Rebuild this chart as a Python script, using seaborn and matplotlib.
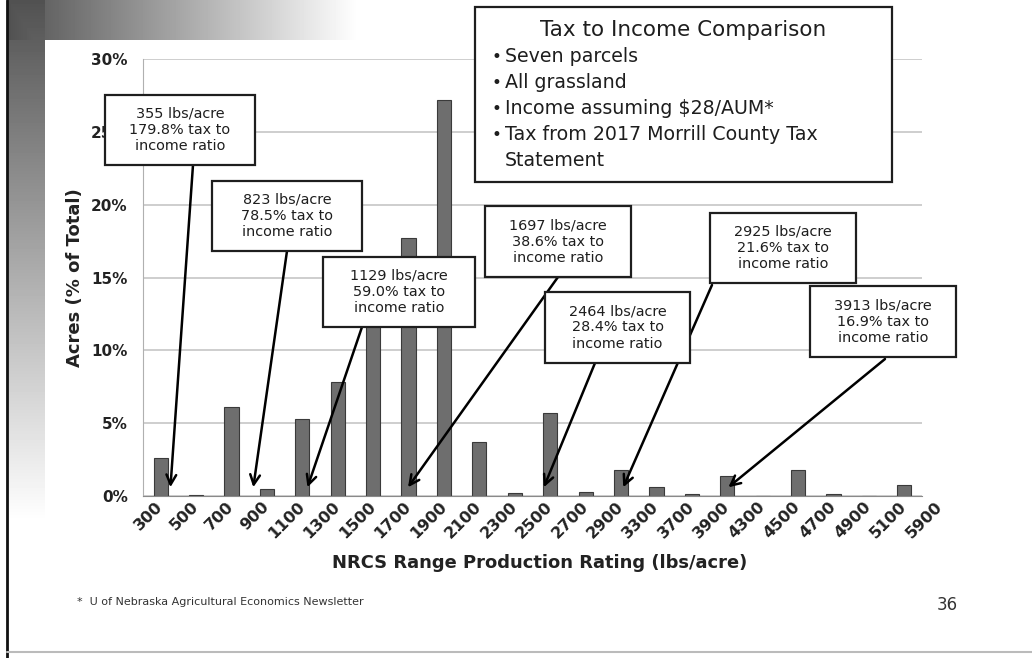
import numpy as np
import pandas as pd
import seaborn as sns
import matplotlib
matplotlib.use("Agg")
import matplotlib.pyplot as plt
from matplotlib.patches import Rectangle

# ---------------- data ----------------
categories = ["300", "500", "700", "900", "1100", "1300", "1500", "1700", "1900",
              "2100", "2300", "2500", "2700", "2900", "3300", "3700", "3900",
              "4300", "4500", "4700", "4900", "5100"]
extra_label = "5900"
acres_pct = [2.6, 0.1, 6.1, 0.5, 5.3, 7.8, 14.0, 17.7, 27.2,
             3.7, 0.2, 5.7, 0.3, 1.8, 0.6, 0.15, 1.4,
             0.0, 1.8, 0.15, 0.0, 0.75]

parcel_lbs = [355, 823, 1129, 1697, 2464, 2925, 3913]
parcel_ratio = [179.8, 78.5, 59.0, 38.6, 28.4, 21.6, 16.9]

info_title = "Tax to Income Comparison"
info_bullets = ["Seven parcels", "All grassland", r"Income assuming \$28/AUM*",
                "Tax from 2017 Morrill County Tax", "Statement"]
info_bullet_flags = [True, True, True, True, False]

footnote = "*  U of Nebraska Agricultural Economics Newsletter"
page_number = "36"

# ---------------- layout (pixels of the 1032x658 slide) ----------------
W, H = 1032, 658
box_px = [(105, 95, 255, 165), (212, 181, 362, 251), (323, 257, 475, 327),
          (485, 206, 631, 277), (545, 292, 690, 363), (710, 213, 856, 283),
          (810, 286, 956, 357)]
arrow_start_px = [(193, 165), (287, 251), (362, 327), (558, 277),
                  (595, 363), (712, 285), (885, 359)]
tip_level = 0.6

sns.set_style("white")
plt.rcParams["font.family"] = ["DejaVu Sans"]

fig = plt.figure(figsize=(W / 100, H / 100), dpi=100)
fig.patch.set_facecolor("white")

def fx(x):
    return x / W

def fy(y):
    return 1 - y / H

# slide decoration (gradient banner + left strip)
bg = fig.add_axes([0, 0, 1, 1], zorder=-10)
yy, xx = np.mgrid[0:H, 0:W]
top = np.clip(1 - (xx - 8) / 350, 0, 1) * (yy < 40)
left = np.clip(1 - yy / 520, 0, 1) * ((xx >= 8) & (xx < 45))
dark = np.maximum(top, left) * (xx >= 8)
img = 1 - 0.68 * dark
bg.imshow(img, cmap="gray", vmin=0, vmax=1, extent=(0, W, H, 0), aspect="auto")
bg.plot([7, 7], [0, H], color="#111111", lw=2)
bg.plot([7, W], [652, 652], color="#bbbbbb", lw=1.5)
bg.set_xlim(0, W)
bg.set_ylim(H, 0)
bg.axis("off")

# ---------------- main chart ----------------
ax = fig.add_axes([fx(143), fy(496), 779 / W, 437 / H])
df = pd.DataFrame({"rating": categories, "pct": acres_pct})
sns.barplot(data=df, x="rating", y="pct", order=categories, color="#6e6e6e",
            saturation=1, width=0.4, edgecolor="#3a3a3a", linewidth=0.8, ax=ax)

ax.set_ylim(0, 30)
yt = np.arange(0, 31, 5)
ax.set_yticks(yt)
ax.set_yticklabels([f"{v}%" for v in yt], fontsize=11, fontweight="bold", color="#222222")
ax.yaxis.grid(True, color="#c6c6c6", lw=1.2)
ax.set_axisbelow(True)
for s in ["top", "right"]:
    ax.spines[s].set_visible(False)
ax.spines["left"].set_color("#b0b0b0")
ax.spines["bottom"].set_color("#8a8a8a")
ax.tick_params(axis="y", length=4, color="#b0b0b0", pad=7)
ax.tick_params(axis="x", which="major", length=0, pad=6)
ax.set_xticks(np.arange(-0.5, len(categories), 1), minor=True)
ax.tick_params(axis="x", which="minor", length=4, color="#8a8a8a")

xlabels = ax.get_xticklabels()
plt.setp(xlabels, rotation=45, ha="right", va="center", rotation_mode="anchor",
         fontsize=11.5, fontweight="bold", color="#222222")
ref = xlabels[-1]
ax.text(len(categories), ref.get_position()[1], extra_label, transform=ref.get_transform(),
        rotation=45, ha="right", va="center", rotation_mode="anchor",
        fontsize=11.5, fontweight="bold", color="#222222", clip_on=False)

ax.set_xlabel("NRCS Range Production Rating (lbs/acre)", fontsize=12.9,
              fontweight="bold", color="#222222", va="center")
ax.xaxis.set_label_coords((540 - 143) / 779, -(563 - 496) / 437)
ax.set_ylabel("Acres (% of Total)", fontsize=13, fontweight="bold", color="#222222", va="center")
ax.yaxis.set_label_coords(-(143 - 75) / 779, 0.5)

# ---------------- annotations ----------------
cat_vals = np.array([float(c) for c in categories])
for lbs, ratio, (x0, y0, x1, y1), (sx, sy) in zip(parcel_lbs, parcel_ratio, box_px, arrow_start_px):
    tip_x = np.interp(lbs, cat_vals, np.arange(len(categories)))
    ax.annotate("", xy=(tip_x, tip_level), xycoords="data",
                xytext=(fx(sx), fy(sy)), textcoords="figure fraction",
                arrowprops=dict(arrowstyle="->,head_length=0.7,head_width=0.35",
                                lw=1.8, color="black", shrinkA=0, shrinkB=0),
                annotation_clip=False, zorder=6)
    fig.patches.append(Rectangle((fx(x0), fy(y1)), (x1 - x0) / W, (y1 - y0) / H,
                                 transform=fig.transFigure, facecolor="white",
                                 edgecolor="#1e1e1e", lw=1.6, zorder=10))
    fig.text(fx((x0 + x1) / 2), fy((y0 + y1) / 2),
             f"{lbs} lbs/acre\n{ratio:.1f}% tax to\nincome ratio",
             ha="center", va="center", fontsize=10.4, linespacing=1.2,
             color="#1e1e1e", zorder=11)

# info box
fig.patches.append(Rectangle((fx(475), fy(182)), (892 - 475) / W, (182 - 7) / H,
                             transform=fig.transFigure, facecolor="white",
                             edgecolor="#1e1e1e", lw=1.6, zorder=10))
fig.text(fx(683), fy(30), info_title, ha="center", va="center", fontsize=15.5,
         color="#1e1e1e", zorder=11)
for i, (line, bullet) in enumerate(zip(info_bullets, info_bullet_flags)):
    yc = 57 + 26 * i
    if bullet:
        fig.text(fx(491), fy(yc), "•", ha="left", va="center", fontsize=12,
                 color="#1e1e1e", zorder=11)
    fig.text(fx(505), fy(yc), line, ha="left", va="center", fontsize=13.7,
             color="#1e1e1e", zorder=11)

fig.text(fx(77), fy(602), footnote, ha="left", va="center", fontsize=8, color="#333333")
fig.text(fx(947), fy(605), page_number, ha="center", va="center", fontsize=12, color="#333333")

fig.savefig("out.png", dpi=100)
